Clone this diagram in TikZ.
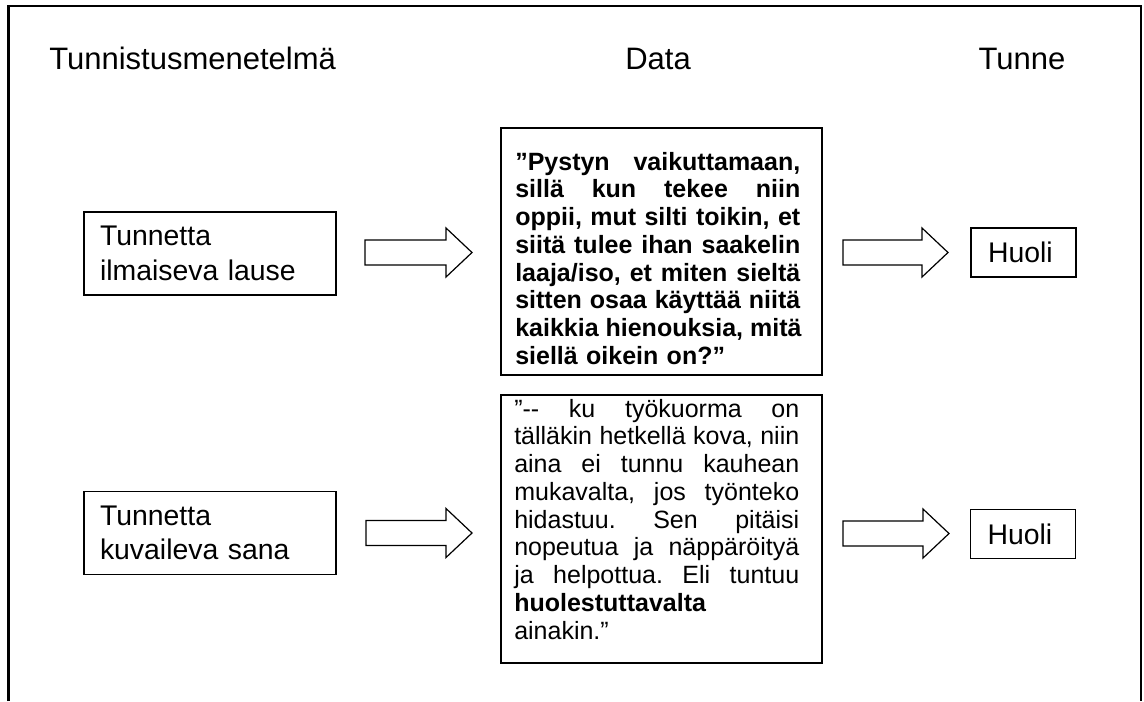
\documentclass[tikz,border=0pt]{standalone}
\usepackage{fontspec}
\setmainfont{Liberation Sans}
\newlength\dw
\setlength\dw{213.75pt}
\newcommand\jl[1]{\leavevmode\hbox to \dw{\frenchspacing\spaceskip=\fontdimen2\font plus 1fil\relax #1}}
\newcommand\barrow[3]{% x0, x1, yc
  \draw[arrowline] (#1,#3-12.5) -- (#2-26,#3-12.5) -- (#2-26,#3-24.5) -- (#2,#3)
    -- (#2-26,#3+24.5) -- (#2-26,#3+12.5) -- (#1,#3+12.5) -- cycle;}
\tikzset{
  frame/.style={line width=2pt},
  box/.style={draw, line width=1.1pt, rectangle, inner sep=0pt},
  hdr/.style={font=\fontsize{23.25pt}{28pt}\selectfont, inner sep=0pt, anchor=base},
  lbl/.style={box, font=\fontsize{21.3pt}{25.9pt}\selectfont, align=left,
    text width=165pt, inner xsep=12pt, minimum width=189pt, minimum height=62.25pt},
  emo/.style={box, font=\fontsize{21.3pt}{25.9pt}\selectfont, align=left,
    text width=53.25pt, inner xsep=12.75pt, minimum width=78.75pt, minimum height=36.75pt},
  databox/.style={box, minimum width=240.75pt},
  datatext/.style={inner sep=0pt, anchor=north west, text width=\dw, align=left,
    font=\fontsize{18.75pt}{20.81pt}\selectfont},
  arrowline/.style={draw, line width=0.9pt, line join=miter}
}
\begin{document}
\begin{tikzpicture}[x=0.75pt, y=-0.75pt]
\useasboundingbox (0,0) rectangle (1144,701);
\draw[frame] (8.5,701) -- (8.5,6) -- (1141,6) -- (1141,701);

% headers
\node[hdr, anchor=base west] (h1) at (49,69) {Tunnistusmenetelmä};
\node[hdr] (h2) at (658,69) {Data};
\node[hdr] (h3) at (1022,69) {Tunne};

% left boxes
\node[lbl] (m1) at (210,253.5) {Tunnetta\\ilmaiseva lause};
\node[lbl] (m2) at (210,533) {Tunnetta\\kuvaileva sana};

% data boxes
\node[databox, minimum height=185.25pt] (d1) at (661.5,251.5) {};
\node[datatext] (d1t) at (515,150.5) {\bfseries
  \strut\jl{”Pystyn vaikuttamaan,}\\
  \jl{sillä kun tekee niin}\\
  \jl{oppii, mut silti toikin, et}\\
  \jl{siitä tulee ihan saakelin}\\
  \jl{laaja/iso, et miten sieltä}\\
  \jl{sitten osaa käyttää niitä}\\
  \jl{kaikkia hienouksia, mitä}\\
  siellä oikein on?”};

\node[databox, minimum height=201pt] (d2) at (661.5,529) {};
\node[datatext] (d2t) at (514,397.5) {%
  \strut\jl{”-{}- ku työkuorma on}\\
  \jl{tälläkin hetkellä kova, niin}\\
  \jl{aina ei tunnu kauhean}\\
  \jl{mukavalta, jos työnteko}\\
  \jl{hidastuu. Sen pitäisi}\\
  \jl{nopeutua ja näppäröityä}\\
  \jl{ja helpottua. Eli tuntuu}\\
  \textbf{huolestuttavalta}\\
  ainakin.”};

% emotion boxes
\node[emo] (e1) at (1023.5,252.5) {Huoli};
\node[emo] (e2) at (1023,534) {Huoli};

% block arrows
\barrow{365}{472}{252.5}
\barrow{843}{948}{252.5}
\barrow{366}{472}{533}
\barrow{843}{949}{533.5}
\end{tikzpicture}
\end{document}
